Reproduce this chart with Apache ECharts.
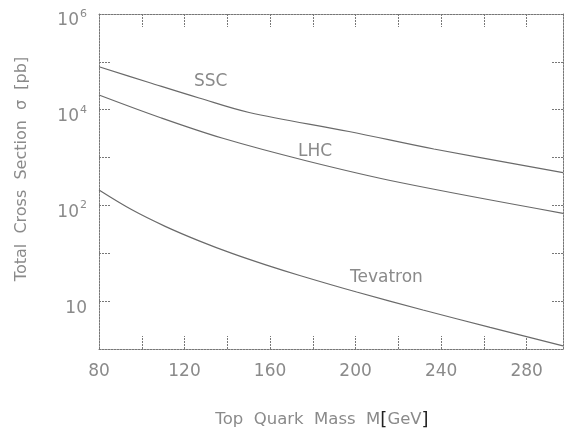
<!DOCTYPE html>
<html>
<head>
<meta charset="utf-8">
<script src="https://cdn.jsdelivr.net/npm/echarts@6/dist/echarts.min.js"></script>
<style>
html,body{margin:0;padding:0;background:#fff;}
#c{width:564px;height:430px;}
</style>
</head>
<body>
<div id="c"></div>
<script>
// Top quark mass [GeV] and total cross section [pb]
var sscMass = [80, 103.4, 126.8, 150.2, 196.9, 236.6, 297];
var sscXsec = [79000, 37060, 17580, 8750, 3510, 1510, 483];

var lhcMass = [80, 108.5, 137.5, 177.3, 220.8, 297];
var lhcXsec = [20300, 6880, 2560, 849, 301, 68.5];

var tevMass = [80, 95.4, 111.2, 126.8, 142.2, 158, 173.5, 200.5, 231.5, 262.9, 297];
var tevXsec = [210, 81, 36.1, 18.2, 9.95, 5.73, 3.48, 1.55, 0.653, 0.283, 0.116];

var xTickLabels = [80, 120, 160, 200, 240, 280];
// y tick labels keyed by exponent: [base, superscript]
var yTickExp = [6, 4, 2, 0];
var yTickText = [['10', '6'], ['10', '4'], ['10', '2'], ['10', '']];

var seriesNames = ['SSC', 'LHC', 'Tevatron'];

function pairs(xs, ys) {
  return xs.map(function (x, i) { return [x, ys[i]]; });
}

var textColor = '#8a8a8a';
var lineColor = '#6a6a6a';
var fontFam = 'DejaVu Sans';

var chart = echarts.init(document.getElementById('c'), null, {renderer: 'canvas'});

function lineSeries(name, data) {
  return {
    name: name,
    type: 'line',
    data: data,
    smooth: 0.35,
    symbol: 'none',
    lineStyle: {color: lineColor, width: 1.2},
    xAxisIndex: 0,
    yAxisIndex: 0
  };
}

var xCommon = {
  type: 'value',
  min: 80,
  max: 297,
  interval: 20,
  splitLine: {show: false},
  axisLine: {show: true, onZero: false, lineStyle: {color: '#777', type: [2, 1], width: 1}},
  axisTick: {show: true, inside: true, length: 13, lineStyle: {color: '#777', type: [2, 1]}}
};
var yCommon = {
  type: 'log',
  logBase: 10,
  min: 0.1,
  max: 1000000,
  interval: 1,
  splitLine: {show: false},
  axisLine: {show: true, onZero: false, lineStyle: {color: '#777', type: [2, 1], width: 1}},
  axisTick: {show: true, inside: true, length: 12, lineStyle: {color: '#777', type: [2, 1]}}
};

var option = {
  animation: false,
  backgroundColor: '#ffffff',
  grid: {left: 99, top: 14, right: 1, bottom: 81, containLabel: false},
  xAxis: [
    Object.assign({}, xCommon, {
      position: 'bottom',
      axisLabel: {
        show: true, margin: 14, color: textColor, fontSize: 17, fontFamily: fontFam,
        showMaxLabel: false,
        formatter: function (v) {
          return xTickLabels.indexOf(Math.round(v)) >= 0 ? String(Math.round(v)) : '';
        }
      }
    }),
    Object.assign({}, xCommon, {
      position: 'top',
      axisLabel: {show: false}
    })
  ],
  yAxis: [
    Object.assign({}, yCommon, {
      position: 'left',
      axisLabel: {
        show: true, margin: 12, color: textColor, fontFamily: fontFam,
        formatter: function (v) {
          var e = Math.round(Math.log10(v));
          var k = yTickExp.indexOf(e);
          if (k < 0) return '';
          var t = yTickText[k];
          return '{b|' + t[0] + '}' + (t[1] ? '{s|' + t[1] + '}' : '');
        },
        rich: {
          b: {fontSize: 17, color: textColor, fontFamily: fontFam, padding: [14, 0, 0, 0]},
          s: {fontSize: 11, color: textColor, fontFamily: fontFam, verticalAlign: 'top', padding: [10, 0, 0, 1]}
        }
      }
    }),
    Object.assign({}, yCommon, {
      position: 'right',
      axisLabel: {show: false}
    })
  ],
  series: [
    lineSeries(seriesNames[0], pairs(sscMass, sscXsec)),
    lineSeries(seriesNames[1], pairs(lhcMass, lhcXsec)),
    lineSeries(seriesNames[2], pairs(tevMass, tevXsec))
  ],
  graphic: [
    {type: 'text', left: 194, top: 73, style: {text: seriesNames[0], fontSize: 17, fontFamily: fontFam, fill: textColor}},
    {type: 'text', left: 298, top: 143, style: {text: seriesNames[1], fontSize: 17, fontFamily: fontFam, fill: textColor}},
    {type: 'text', left: 350, top: 269, style: {text: seriesNames[2], fontSize: 17, fontFamily: fontFam, fill: textColor}},
    {
      type: 'text', x: 22, y: 169, rotation: Math.PI / 2, originX: 0, originY: 0,
      style: {
        text: 'Total  Cross  Section  σ  [pb]', fontSize: 16, fontFamily: fontFam, fill: textColor,
        align: 'center', verticalAlign: 'middle'
      }
    },
    {
      type: 'text', x: 322, y: 420,
      style: {
        text: '{n|Top  Quark  Mass  M}{k|[}{n|GeV}{k|]}',
        align: 'center', verticalAlign: 'middle',
        rich: {
          n: {fontSize: 16.5, fontFamily: fontFam, fill: textColor, color: textColor},
          k: {fontSize: 18, fontFamily: fontFam, fill: '#222', color: '#222'}
        }
      }
    }
  ]
};
chart.setOption(option);
</script>
</body>
</html>
